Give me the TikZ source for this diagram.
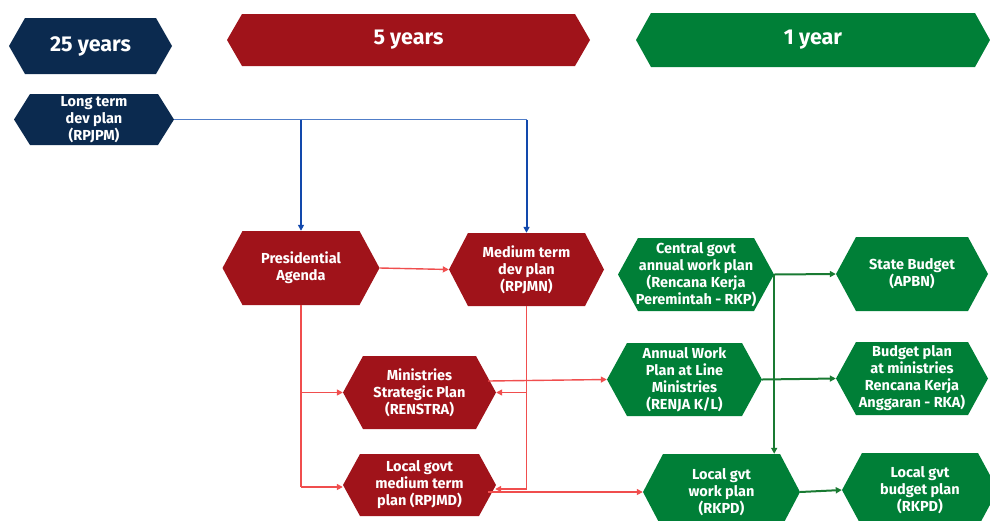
\documentclass[tikz,border=0pt]{standalone}
\usepackage{fontspec}
\setmainfont{Fira Sans}
\usetikzlibrary{arrows.meta}
\definecolor{navy}{RGB}{11,42,79}
\definecolor{wine}{RGB}{160,19,26}
\definecolor{leaf}{RGB}{0,127,55}
\definecolor{redline}{RGB}{240,78,78}
\definecolor{blueline}{RGB}{18,72,172}
\definecolor{bluethin}{RGB}{80,125,200}
\definecolor{greenline}{RGB}{25,122,50}
\newcommand\hdrfont{\fontsize{21.5}{25}\selectfont\bfseries}
\newcommand\boxfont{\fontsize{14.5}{17}\selectfont\bfseries}
\begin{document}
\begin{tikzpicture}[x=1pt,y=-1pt,
  hexa/.style n args={4}{rectangle, inner sep=0pt, draw=none,
    minimum width=#2pt, minimum height=#3pt, text=white, align=center,
    font=\boxfont,
    path picture={\fill[#1]
      (path picture bounding box.west)
      -- ([xshift=#4pt]path picture bounding box.north west)
      -- ([xshift=-#4pt]path picture bounding box.north east)
      -- (path picture bounding box.east)
      -- ([xshift=-#4pt]path picture bounding box.south east)
      -- ([xshift=#4pt]path picture bounding box.south west)
      -- cycle;}},
  tip/.style={-{Triangle[length=6pt,width=6pt]}},
  redarrow/.style={tip, draw=redline, line width=1.4pt},
  redlink/.style={draw=redline, line width=1.4pt},
  bluearrow/.style={tip, draw=blueline, line width=2pt},
  bluelink/.style={draw=bluethin, line width=1pt},
  greenarrow/.style={tip, draw=greenline, line width=2pt}]
\useasboundingbox (0,0) rectangle (990,520);
\clip (0,0) rectangle (990,520);

% time-horizon banners
\node[hexa={navy}{163}{56}{16}, font=\hdrfont] (y25) at (90.5,46) {25 years};
\node[hexa={wine}{363}{52}{15}, font=\hdrfont] (y5) at (408.5,40) {5 years};
\node[hexa={leaf}{354}{54}{15}, font=\hdrfont] (y1) at (813,40) {1 year};

% 25-year plan
\node[hexa={navy}{160}{51}{16}] (ltp) at (94,119.5) {Long term\\dev plan\\(RPJPM)};

% 5-year plans
\node[hexa={wine}{157}{74}{20}] (pa) at (301,268) {Presidential\\Agenda};
\node[hexa={wine}{155}{73}{19}] (mtp) at (526.5,269.5) {Medium term\\dev plan\\(RPJMN)};
\node[hexa={wine}{153}{73}{20}] (msp) at (419.5,392.5) {Ministries\\Strategic Plan\\(RENSTRA)};
\node[hexa={wine}{153}{62}{17}] (lgm) at (419.5,485) {Local govt\\medium term\\plan (RPJMD)};

% 1-year plans
\node[hexa={leaf}{156}{73}{20}] (cg) at (696,274.5) {Central govt\\annual work plan\\(Rencana Kerja\\Peremintah - RKP)};
\node[hexa={leaf}{152}{74}{20}] (sb) at (912,274) {State Budget\\(APBN)};
\node[hexa={leaf}{155}{73}{20}] (awp) at (684.5,379.5) {Annual Work\\Plan at Line\\Ministries\\(RENJA K/L)};
\node[hexa={leaf}{152}{73}{20}] (bpm) at (912,378.5) {Budget plan\\at ministries\\Rencana Kerja\\Anggaran - RKA)};
\node[hexa={leaf}{157}{76}{20}] (lgw) at (721.5,492) {Local gvt\\work plan\\(RKPD)};
\node[hexa={leaf}{156}{74}{20}] (lgb) at (920,490) {Local gvt\\budget plan\\(RKPD)};

% long-term plan feeds the 5-year plans
\draw[bluelink] (ltp.east) -- (ltp.east -| mtp.north);
\draw[bluearrow] (ltp.east -| pa.north) -- (pa.north);
\draw[bluearrow] (ltp.east -| mtp.north) -- (mtp.north);

% 5-year level
\draw[redarrow] (pa.east) -- (mtp.west);
\draw[redlink] (pa.south) -- ([yshift=-2pt]pa.south |- lgm.west);
\draw[redarrow] (pa.south |- msp.west) -- (msp.west);
\draw[redarrow] ([yshift=-2pt]pa.south |- lgm.west) -- ([yshift=-2pt]lgm.west);
\draw[redlink] (mtp.south) -- ([yshift=-4pt]mtp.south |- lgm.east);
\draw[redarrow] (mtp.south |- msp.east) -- (msp.east);
\draw[redarrow] ([yshift=-4pt]mtp.south |- lgm.east) -- ([yshift=-4pt,xshift=-1pt]lgm.east);

% 5-year to 1-year
\draw[redarrow] ([xshift=-8pt,yshift=-1.5pt]msp.east |- awp.west) -- (awp.west);
\draw[redarrow] ([xshift=-8pt]lgm.east |- lgw.west) -- (lgw.west);

% 1-year level
\draw[greenarrow] (cg.east) -- (sb.west);
\draw[greenarrow] (cg.east) -- (cg.east |- lgw.north);
\draw[greenarrow] (awp.east) -- (bpm.west);
\draw[greenarrow] (lgw.east) -- (lgb.west);
\end{tikzpicture}
\end{document}
